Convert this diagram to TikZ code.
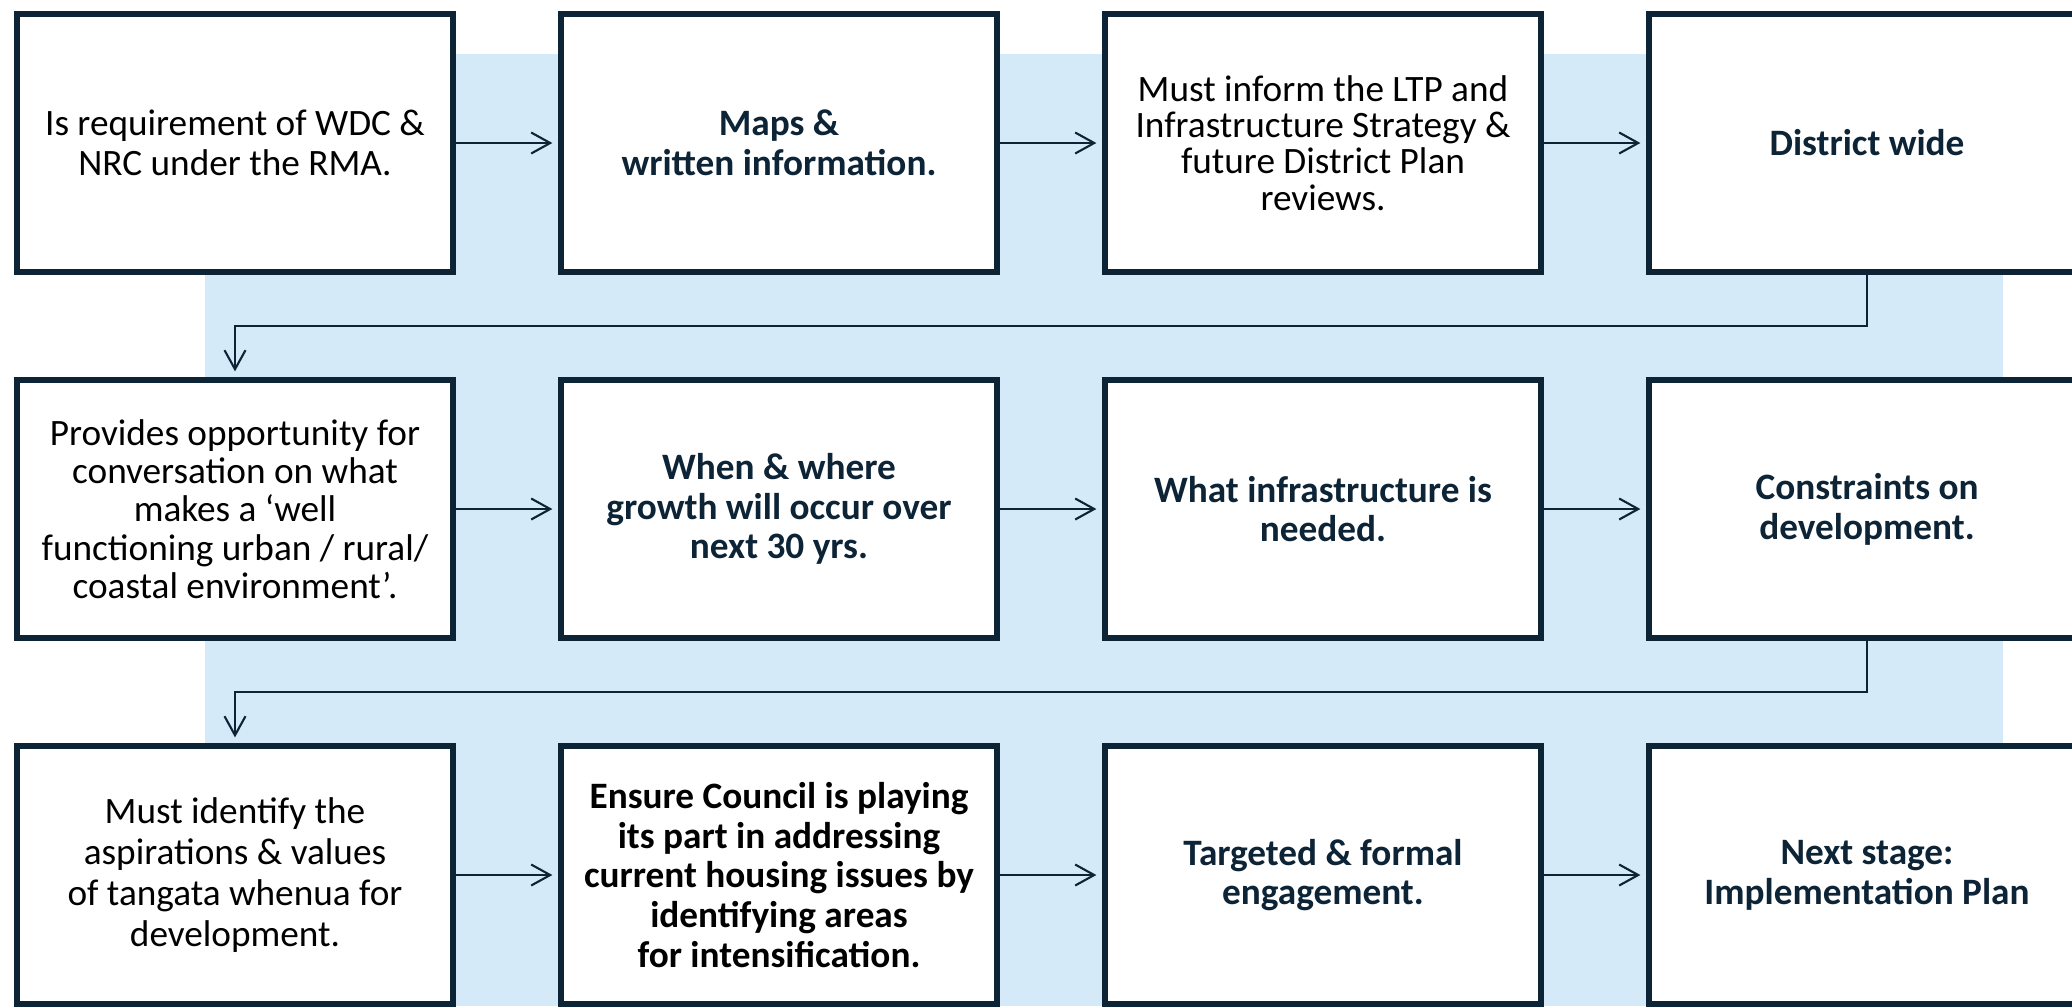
\documentclass[tikz,border=0pt]{standalone}
\usepackage{fontspec}
\setmainfont{Carlito}
\usepackage{tikz}
\usetikzlibrary{arrows.meta}

\definecolor{navy}{HTML}{0D2437}
\definecolor{paleblue}{HTML}{D5EAF8}

\begin{document}
\begin{tikzpicture}[
    infobox/.style={draw=navy, line width=1.5pt, fill=white, minimum width=4.36cm, minimum height=2.58cm, align=center, font=\fontsize{10.6}{11.3}\selectfont},
    keytext/.style={infobox, text=navy, font=\fontsize{10.6}{11.3}\selectfont\bfseries},
    flow/.style={draw=navy, line width=0.6pt, -{Straight Barb[length=1.9mm,width=2.1mm]}, shorten >=0.06cm}
  ]
            \useasboundingbox (0,0) rectangle (20.72,-10.06);
            \clip (0,0) rectangle (20.72,-10.06);

            % Background band
            \fill[paleblue] (2.05,-0.54) rectangle (20.03,-10.06);

            % Row 1
            \node[infobox] (req) at (2.35,-1.43) {Is requirement of WDC \&\\NRC under the RMA.};
            \node[keytext] (maps) at (7.79,-1.43) {Maps \&\\written information.};
            \node[infobox, font=\fontsize{10.6}{10.3}\selectfont] (ltp) at (13.23,-1.43) {Must inform the LTP and\\Infrastructure Strategy \&\\future District Plan\\reviews.};
            \node[keytext] (wide) at (18.67,-1.43) {District wide};

            % Row 2
            \node[infobox, font=\fontsize{10.6}{10.9}\selectfont] (conv) at (2.35,-5.09) {Provides opportunity for\\conversation on what\\makes a ‘well\\functioning urban / rural/\\coastal environment’.};
            \node[keytext] (growth) at (7.79,-5.09) {When \& where\\growth will occur over\\next 30 yrs.};
            \node[keytext] (infra) at (13.23,-5.09) {What infrastructure is\\needed.};
            \node[keytext] (constr) at (18.67,-5.09) {Constraints on\\development.};

            % Row 3
            \node[infobox, font=\fontsize{10.6}{11.7}\selectfont] (tangata) at (2.35,-8.75) {Must identify the\\aspirations \& values\\of tangata whenua for\\development.};
            \node[keytext, text=black] (housing) at (7.79,-8.75) {Ensure Council is playing\\its part in addressing\\current housing issues by\\identifying areas\\for intensification.};
            \node[keytext] (engage) at (13.23,-8.75) {Targeted \& formal\\engagement.};
            \node[keytext] (nextstage) at (18.67,-8.75) {Next stage:\\Implementation Plan};

            % Arrows along the rows
            \draw[flow] (req) -- (maps);
            \draw[flow] (maps) -- (ltp);
            \draw[flow] (ltp) -- (wide);
            \draw[flow] (conv) -- (growth);
            \draw[flow] (growth) -- (infra);
            \draw[flow] (infra) -- (constr);
            \draw[flow] (tangata) -- (housing);
            \draw[flow] (housing) -- (engage);
            \draw[flow] (engage) -- (nextstage);

            % Turns to the next row
            \draw[flow] (wide.south) -- ++(0,-0.51) -| (conv.north);
            \draw[flow] (constr.south) -- ++(0,-0.51) -| (tangata.north);
        \end{tikzpicture}
\end{document}
